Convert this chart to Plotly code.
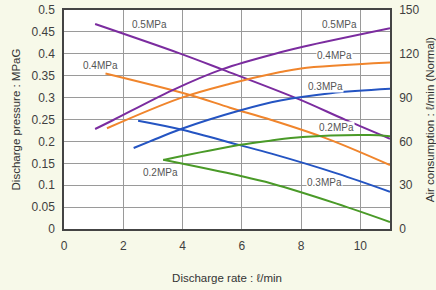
import plotly.graph_objects as go

# Discharge pressure (left axis, MPaG) vs discharge rate (l/min)
p05_x = [1.05, 3.9, 5.35, 7.9, 9.5, 11.0]
p05_y = [0.468, 0.401, 0.364, 0.297, 0.249, 0.206]
p04_x = [1.4, 4.25, 5.6, 7.0, 8.85, 11.0]
p04_y = [0.355, 0.306, 0.277, 0.249, 0.207, 0.146]
p03_x = [2.5, 3.95, 5.9, 7.0, 9.2, 11.0]
p03_y = [0.247, 0.227, 0.192, 0.172, 0.127, 0.085]
p02_x = [3.35, 5.9, 7.0, 9.2, 11.0]
p02_y = [0.158, 0.122, 0.104, 0.058, 0.016]

# Air consumption (right axis, l/min Normal) vs discharge rate
a05_x = [1.05, 1.65, 3.65, 5.35, 7.3, 8.1, 11.0]
a05_y = [68.5, 74.5, 95.0, 109.5, 121.0, 125.0, 137.5]
a04_x = [1.45, 3.9, 5.6, 7.3, 8.0, 11.0]
a04_y = [69.0, 89.5, 99.5, 107.5, 110.0, 114.0]
a03_x = [2.35, 2.9, 3.95, 5.9, 7.3, 9.0, 11.0]
a03_y = [55.5, 60.0, 68.5, 81.0, 88.0, 93.0, 96.0]
a02_x = [3.35, 5.9, 6.95, 8.05, 10.3, 11.0]
a02_y = [47.3, 57.5, 60.5, 63.0, 64.3, 63.5]

labels = ["0.5MPa", "0.4MPa", "0.5MPa", "0.4MPa", "0.3MPa", "0.2MPa", "0.2MPa", "0.3MPa"]
label_x = [2.87, 1.22, 9.29, 9.12, 8.82, 9.19, 3.24, 8.78]
label_y = [0.468, 0.374, 0.468, 0.397, 0.326, 0.231, 0.128, 0.106]

x_ticks = [0, 2, 4, 6, 8, 10]
left_ticks = [0, 0.05, 0.1, 0.15, 0.2, 0.25, 0.3, 0.35, 0.4, 0.45, 0.5]
left_tick_text = ["0", "0.05", "0.1", "0.15", "0.2", "0.25", "0.3", "0.35", "0.4", "0.45", "0.5"]
right_ticks = [0, 30, 60, 90, 120, 150]

PURPLE = "#7b2c9f"
ORANGE = "#f0852c"
BLUE = "#2454c2"
GREEN = "#4a9a28"

fig = go.Figure()

def add(xs, ys, color, axis):
    fig.add_trace(go.Scatter(x=xs, y=ys, mode="lines", yaxis=axis,
                             line=dict(color=color, width=2, shape="spline", smoothing=1.0),
                             showlegend=False, hoverinfo="skip"))

add(p05_x, p05_y, PURPLE, "y")
add(p04_x, p04_y, ORANGE, "y")
add(p03_x, p03_y, BLUE, "y")
add(p02_x, p02_y, GREEN, "y")
add(a05_x, a05_y, PURPLE, "y2")
add(a04_x, a04_y, ORANGE, "y2")
add(a03_x, a03_y, BLUE, "y2")
add(a02_x, a02_y, GREEN, "y2")

for t, lx, ly in zip(labels, label_x, label_y):
    fig.add_annotation(x=lx, y=ly, xref="x", yref="y", text=t, showarrow=False,
                       font=dict(family="Liberation Sans, Arial", size=10, color="#555555"),
                       bgcolor="white", borderpad=0)

font_tick = dict(family="Liberation Sans, Arial", size=12, color="#3f3f3f")
font_title = dict(family="Liberation Sans, Arial", size=11.5, color="#333333")

fig.update_layout(
    width=436, height=290,
    margin=dict(l=64, r=46, t=10, b=61, autoexpand=False),
    paper_bgcolor="#f7f9e9", plot_bgcolor="white",
    xaxis=dict(range=[0, 11], tickvals=x_ticks, showgrid=True, gridcolor="#9a9a9a", gridwidth=1,
               zeroline=False, showline=True, linecolor="#444444", linewidth=1.5, mirror=True,
               tickfont=font_tick, ticklabelstandoff=5, automargin=False,
               title=dict(text="Discharge rate : ℓ/min", font=font_title, standoff=22)),
    yaxis=dict(range=[0, 0.5], tickvals=left_ticks, ticktext=left_tick_text, showgrid=True,
               gridcolor="#9a9a9a", gridwidth=1, zeroline=False, showline=True,
               linecolor="#444444", linewidth=1.5, mirror=True, tickfont=font_tick,
               ticklabelstandoff=5, automargin=False,
               title=dict(text="Discharge pressure : MPaG", font=font_title, standoff=8)),
    yaxis2=dict(range=[0, 150], tickvals=right_ticks, overlaying="y", side="right",
                showgrid=False, zeroline=False, showline=True, linecolor="#444444", linewidth=1.5,
                tickfont=font_tick, ticklabelstandoff=5, automargin=False,
                title=dict(text="Air consumption : ℓ/min (Normal)", font=font_title, standoff=8)),
)

fig.write_html("out.html", config={"displayModeBar": False},
               post_script="document.body.style.margin='0';")
